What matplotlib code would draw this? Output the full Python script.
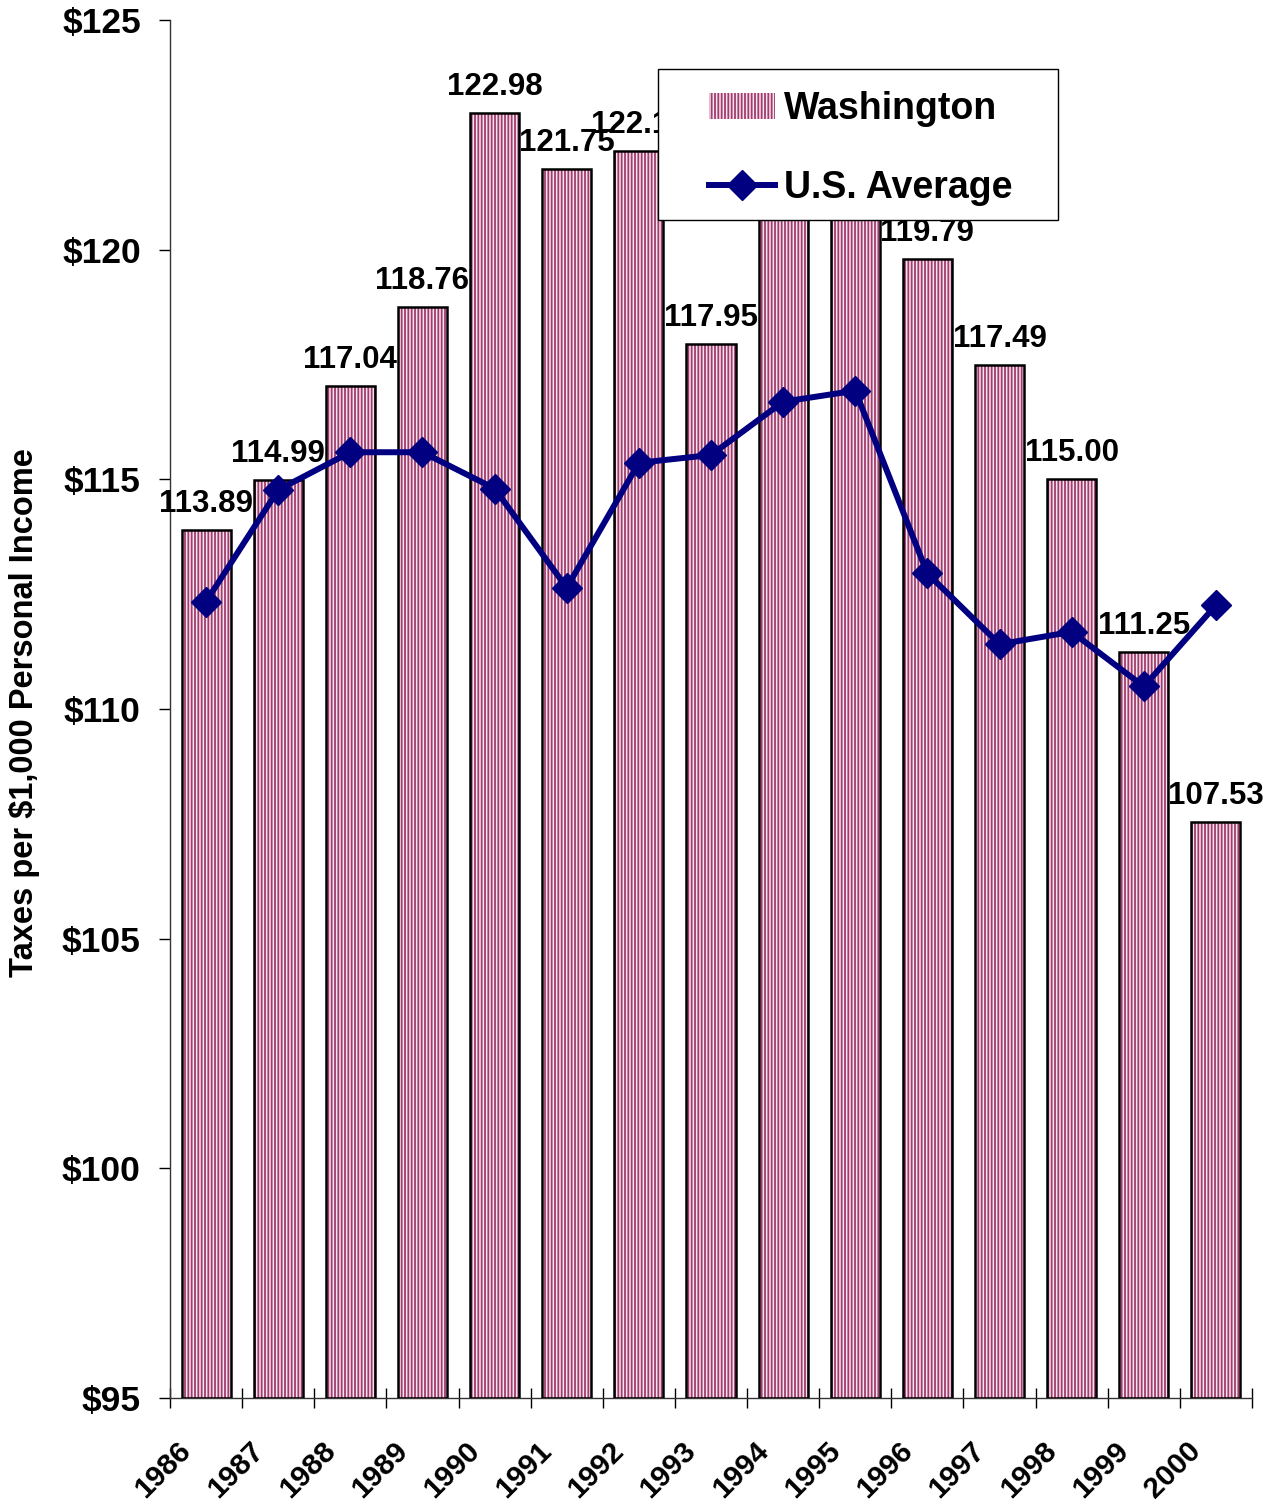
import matplotlib
matplotlib.use("Agg")
import matplotlib.pyplot as plt
from matplotlib.patches import Rectangle
from matplotlib.lines import Line2D
from matplotlib.patches import Patch
import matplotlib.transforms as mtransforms

plt.rcParams['font.family'] = ['Liberation Sans', 'DejaVu Sans']
plt.rcParams['font.weight'] = 'bold'
plt.rcParams['hatch.linewidth'] = 1.3

years = ["1986", "1987", "1988", "1989", "1990", "1991", "1992", "1993",
         "1994", "1995", "1996", "1997", "1998", "1999", "2000"]
washington = [113.89, 114.99, 117.04, 118.76, 122.98, 121.75, 122.15, 117.95,
              122.60, 123.07, 119.79, 117.49, 115.00, 111.25, 107.53]
us_average = [112.34, 114.77, 115.59, 115.59, 114.80, 112.64, 115.36, 115.53,
              116.69, 116.93, 112.95, 111.41, 111.68, 110.49, 112.26]
y_ticks = [95, 100, 105, 110, 115, 120, 125]
y_tick_labels = ["$95", "$100", "$105", "$110", "$115", "$120", "$125"]

HATCH_COLOR = '#a03c6e'
FACE = '#f8e4ee'

W, H = 1276, 1505
fig = plt.figure(figsize=(W / 100, H / 100), dpi=100)
ax = fig.add_axes([170 / W, 1 - 1398 / H, (1252 - 170) / W, (1398 - 20) / H])

x = list(range(len(years)))
bottom = 95
heights = [v - bottom for v in washington]
ax.bar(x, heights, bottom=bottom, width=0.68, facecolor=FACE,
       edgecolor=HATCH_COLOR, linewidth=0, hatch='|||||', zorder=2)
ax.bar(x, heights, bottom=bottom, width=0.68, fill=False,
       edgecolor='black', linewidth=1.8, zorder=3)

ax.plot(x, us_average, color='#000080', linewidth=4.3, marker='D',
        markersize=15, zorder=4, solid_joinstyle='miter')

for xi, v in zip(x, washington):
    ax.annotate(f"{v:.2f}", xy=(xi, v), xytext=(0, 13), textcoords='offset points',
                ha='center', va='baseline', fontsize=22.5, fontweight='bold',
                zorder=5, annotation_clip=False)

ax.set_xlim(-0.5, len(years) - 0.5)
ax.set_ylim(95, 125)
ax.set_yticks(y_ticks)
ax.set_yticklabels(y_tick_labels, fontsize=25.5, fontweight='bold')
ax.tick_params(axis='y', direction='out', length=8, width=1, pad=13)

ax.set_xticks([i - 0.5 for i in range(len(years) + 1)])
ax.set_xticklabels([])
ax.tick_params(axis='x', direction='inout', length=14, width=1)

trans = mtransforms.blended_transform_factory(ax.transData, ax.transAxes)
for xi, lab in zip(x, years):
    ax.annotate(lab, xy=(xi, 0), xycoords=trans, xytext=(-21, -28),
                textcoords='offset points', rotation=45, ha='right', va='top',
                rotation_mode='anchor', fontsize=21.5, fontweight='bold',
                annotation_clip=False)

for s in ['top', 'right']:
    ax.spines[s].set_visible(False)
ax.spines['left'].set_linewidth(1)
ax.spines['bottom'].set_linewidth(1)
ax.spines['left'].set_color('#333333')
ax.spines['bottom'].set_color('#333333')

fig.text(25 / W, 1 - 713 / H, "Taxes per $1,000 Personal Income", rotation=90,
         ha='center', va='center', fontsize=23.5, fontweight='bold')

# legend frame
frame = Rectangle((658 / W, 1 - 220 / H), 400 / W, 151 / H, transform=fig.transFigure,
                  facecolor='white', edgecolor='black', linewidth=1.0, zorder=10)
fig.patches.append(frame)

handles = [Patch(facecolor=FACE, edgecolor=HATCH_COLOR, hatch='|||||', linewidth=0),
           Line2D([0], [0], color='#000080', linewidth=4.3, marker='D', markersize=15)]
leg = fig.legend(handles, ["Washington", "U.S. Average"], loc='upper left',
                 bbox_to_anchor=(709 / W, 1 - 91 / H), frameon=False,
                 borderpad=0, borderaxespad=0, handlelength=1.75, handleheight=0.7,
                 handletextpad=0.25, labelspacing=1.15,
                 prop={'weight': 'bold', 'size': 27})
leg.set_zorder(11)

fig.savefig("out.png", dpi=100)
